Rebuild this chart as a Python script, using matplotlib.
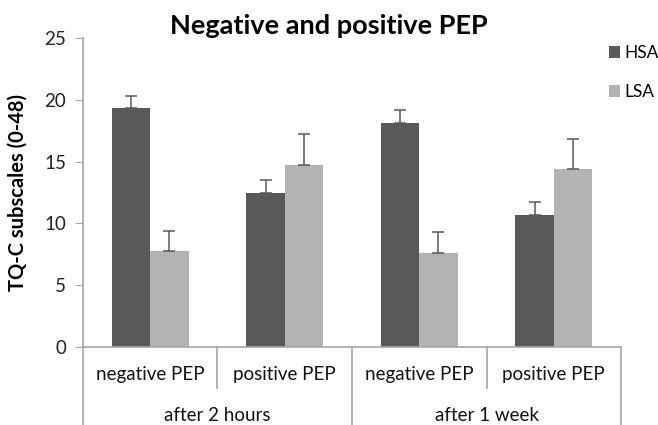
import numpy as np
import matplotlib.pyplot as plt
import matplotlib.transforms as mtransforms

plt.rcParams['font.family'] = ['Lato', 'DejaVu Sans']

categories = ['negative PEP', 'positive PEP', 'negative PEP', 'positive PEP']
groups = ['after 2 hours', 'after 1 week']
hsa = [19.3, 12.5, 18.1, 10.7]
hsa_err = [1.0, 1.0, 1.1, 1.0]
lsa = [7.8, 14.7, 7.6, 14.4]
lsa_err = [1.55, 2.5, 1.7, 2.45]

dark = '#595959'
light = '#b3b3b3'
axis_col = '#a6a6a6'

fig = plt.figure(figsize=(6.58, 4.25), dpi=100)
ax = fig.add_axes([0.1261, 0.1835, 0.8177, 0.7271])

x = np.arange(len(categories))
w = 0.285
ekw = dict(ecolor=dark, elinewidth=1.1, capsize=4.5, capthick=1.1)
ax.bar(x - w / 2, hsa, w, color=dark, label='HSA', yerr=[np.zeros(4), hsa_err], error_kw=ekw)
ax.bar(x + w / 2, lsa, w, color=light, label='LSA', yerr=[np.zeros(4), lsa_err], error_kw=ekw)

ax.set_xlim(-0.5, 3.5)
ax.set_ylim(0, 25)
ax.set_yticks(range(0, 26, 5))
ax.tick_params(axis='y', labelsize=13.5, length=6, color=axis_col, pad=6, labelcolor='#222222')
ax.set_xticks([])

for s in ['top', 'right']:
    ax.spines[s].set_visible(False)
for s in ['left', 'bottom']:
    ax.spines[s].set_color(axis_col)
    ax.spines[s].set_linewidth(1.2)

# two level category axis
trans = mtransforms.blended_transform_factory(ax.transData, ax.transAxes)
for xs in [-0.5, 1.5, 3.5]:
    ax.plot([xs, xs], [0, -0.26], transform=trans, color=axis_col, lw=1.2, clip_on=False)
for xs in [0.5, 2.5]:
    ax.plot([xs, xs], [0, -0.133], transform=trans, color=axis_col, lw=1.2, clip_on=False)
for i, c in enumerate(categories):
    ax.text(i, -0.09, c, transform=trans, ha='center', va='center', fontsize=13.5, color='#111111')
for j, g in enumerate(groups):
    ax.text(2 * j + 0.5, -0.222, g, transform=trans, ha='center', va='center', fontsize=13.5, color='#111111')

ax.set_ylabel('TQ-C subscales (0-48)', fontsize=14.5, fontweight='bold', labelpad=12)
fig.text(0.5, 0.94, 'Negative and positive PEP', ha='center', va='center', fontsize=19.5, fontweight='bold')

ax.legend(loc='upper left', bbox_to_anchor=(0.912, 0.915), bbox_transform=fig.transFigure,
          frameon=False, fontsize=12.5, handlelength=0.65, handleheight=0.65, handletextpad=0.25,
          labelspacing=1.35, borderpad=0)

fig.savefig('out.png', dpi=100)
